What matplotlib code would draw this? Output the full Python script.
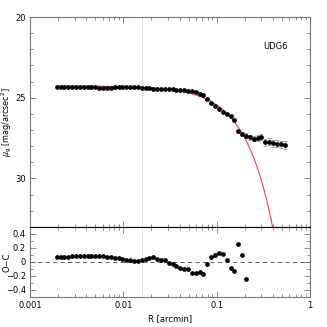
"""Surface-brightness profile of UDG6 with Sersic fit (top) and O-C residuals (bottom)."""
import matplotlib
matplotlib.use("Agg")
import matplotlib.pyplot as plt
import numpy as np
from matplotlib.ticker import LogLocator, MultipleLocator, NullFormatter, FixedLocator

# radii grow geometrically by 10% per step, starting at 0.00193 arcmin
R0 = 0.00193
STEP = 1.1
N_PROFILE = 60

# observed surface brightness [mag/arcsec^2]
mu_obs = [
    24.349, 24.349, 24.350, 24.351, 24.355, 24.358, 24.359, 24.360, 24.364, 24.365,
    24.365, 24.368, 24.368, 24.368, 24.367, 24.361, 24.357, 24.355, 24.346, 24.345,
    24.346, 24.358, 24.381, 24.408, 24.426, 24.457, 24.455, 24.456, 24.485, 24.473,
    24.489, 24.495, 24.512, 24.539, 24.594, 24.592, 24.669, 24.767, 24.832, 25.082,
    25.307, 25.491, 25.677, 25.852, 25.985, 26.125, 26.373, 27.060, 27.260, 27.350,
    27.460, 27.540, 27.500, 27.440, 27.770, 27.710, 27.810, 27.860, 27.880, 27.940,
]
mu_err = [
    0.01, 0.01, 0.01, 0.01, 0.01, 0.01, 0.01, 0.01, 0.01, 0.01,
    0.01, 0.01, 0.01, 0.01, 0.01, 0.01, 0.01, 0.01, 0.01, 0.01,
    0.01, 0.01, 0.01, 0.01, 0.01, 0.01, 0.01, 0.01, 0.01, 0.01,
    0.02, 0.02, 0.02, 0.02, 0.03, 0.03, 0.03, 0.04, 0.04, 0.04,
    0.05, 0.05, 0.05, 0.06, 0.06, 0.07, 0.08, 0.12, 0.13, 0.14,
    0.15, 0.16, 0.17, 0.18, 0.19, 0.20, 0.21, 0.22, 0.23, 0.24,
]
# O-C residuals for the inner 50 radii
resid = [
    0.075, 0.075, 0.075, 0.075, 0.078, 0.080, 0.080, 0.080, 0.082, 0.082,
    0.080, 0.080, 0.078, 0.075, 0.070, 0.060, 0.052, 0.045, 0.030, 0.022,
    0.015, 0.018, 0.030, 0.045, 0.050, 0.065, 0.045, 0.025, 0.030, -0.010,
    -0.025, -0.055, -0.080, -0.100, -0.100, -0.165, -0.160, -0.145, -0.175, -0.035,
    0.065, 0.105, 0.125, 0.110, 0.025, -0.085, -0.125, 0.260, 0.100, -0.240,
]

# Sersic-like fit: mu(R) = mu0 + a * R**(1/n)
SERSIC_MU0 = 24.27
SERSIC_A = 33.3
SERSIC_INV_N = 1.45

R_PSF = 0.0157  # dotted vertical line
LABEL = "UDG6"

GREY = "#777777"
RED = "#ff3b3b"

plt.rcParams["font.family"] = ["DejaVu Sans"]
plt.rcParams["font.size"] = 6

radius = R0 * STEP ** np.arange(N_PROFILE)
r_model = np.logspace(np.log10(R0), np.log10(0.5), 400)
mu_model = SERSIC_MU0 + SERSIC_A * r_model ** SERSIC_INV_N

fig = plt.figure(figsize=(3.27, 3.27), dpi=100)
ax_top = fig.add_axes([0.092, 0.306, 0.856, 0.642])
ax_bot = fig.add_axes([0.092, 0.092, 0.856, 0.214], sharex=ax_top)


def style(ax):
    ax.set_xscale("log")
    ax.tick_params(which="both", direction="in", top=True, right=True,
                   color=GREY, width=0.6, labelsize=6, pad=3)
    ax.tick_params(which="major", length=4.5)
    ax.tick_params(which="minor", length=2.2)
    ax.xaxis.set_major_locator(LogLocator(base=10))
    ax.xaxis.set_minor_locator(LogLocator(base=10, subs=np.arange(2, 10)))
    ax.xaxis.set_minor_formatter(NullFormatter())
    for sp in ax.spines.values():
        sp.set_color(GREY)
        sp.set_linewidth(0.8)


# top panel: profile
style(ax_top)
ax_top.plot(r_model, mu_model, color=RED, lw=0.8, zorder=2)
ax_top.errorbar(radius, mu_obs, yerr=mu_err, fmt="o", ms=2.4, color="black",
                ecolor="#999999", elinewidth=0.6, capsize=1.5, capthick=0.6, zorder=3)
ax_top.axvline(R_PSF, color=GREY, ls=(0, (0.8, 1.6)), lw=0.5, zorder=1)
ax_top.set_xlim(0.001, 1)
ax_top.set_ylim(33, 20)
ax_top.yaxis.set_major_locator(FixedLocator([20, 25, 30]))
ax_top.yaxis.set_minor_locator(MultipleLocator(1))
ax_top.tick_params(axis="x", labelbottom=False)
ax_top.spines["bottom"].set_color("black")
ax_top.set_ylabel(r"$\mu_{\rm g}$ [mag/arcsec$^2$]", fontsize=5.8)
ax_top.yaxis.set_label_coords(-0.058, 0.5)
ax_top.text(0.43, 21.85, LABEL, ha="center", va="center", fontsize=6)

# bottom panel: residuals
style(ax_bot)
ax_bot.plot(radius[:len(resid)], resid, "o", ms=2.4, color="black", zorder=3)
ax_bot.axhline(0, color="#444444", ls=(0, (5, 4)), lw=0.6)
ax_bot.axvline(R_PSF, color=GREY, ls=(0, (0.8, 1.6)), lw=0.5, zorder=1)
ax_bot.set_ylim(-0.5, 0.5)
ax_bot.yaxis.set_major_locator(MultipleLocator(0.2))
ax_bot.yaxis.set_minor_locator(MultipleLocator(0.1))
ax_bot.spines["top"].set_color("black")
ax_bot.set_xticks([0.001, 0.01, 0.1, 1])
ax_bot.set_xticklabels(["0.001", "0.01", "0.1", "1"])
ax_bot.set_yticks([-0.4, -0.2, 0, 0.2, 0.4])
ax_bot.set_yticklabels(["\u22120.4", "\u22120.2", "0", "0.2", "0.4"])
ax_bot.set_xlabel("R [arcmin]", labelpad=3)
ax_bot.set_ylabel("O\u2212C", fontsize=6)
ax_bot.yaxis.set_label_coords(-0.068, 0.5)

fig.savefig("out.png", dpi=100)
